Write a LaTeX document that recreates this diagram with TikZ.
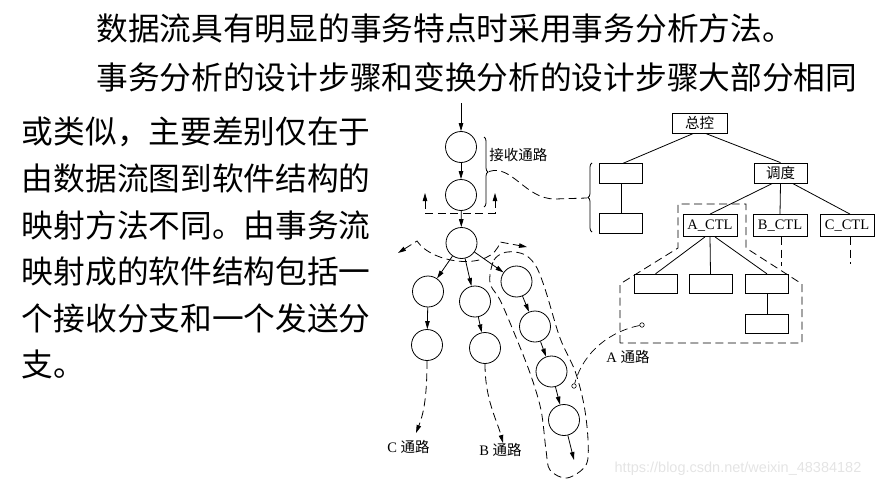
\documentclass[tikz,border=0pt]{standalone}
\usepackage{fontspec}
\setmainfont{Liberation Serif}
\newfontfamily\cjk{Noto Sans CJK SC}
\newfontfamily\wmfont{Liberation Sans}
\usetikzlibrary{arrows.meta,decorations.pathreplacing}
\definecolor{wmark}{HTML}{E4E4E4}

\begin{document}
\begin{tikzpicture}[x=1pt,y=-1pt,line width=0.8pt,
   body/.style={anchor=base west,inner sep=0pt,font=\cjk\fontsize{31.7}{40}\selectfont},
   tag/.style={anchor=west,inner sep=0pt,font=\fontsize{14.5}{16}\selectfont},
   arr/.style={-{Triangle[length=8pt,width=4.5pt]}},
   dline/.style={dash pattern=on 8pt off 4.5pt},
   bubble/.style={circle,draw,minimum size=31pt,inner sep=0pt},
   port/.style={circle,draw,fill=white,minimum size=4.5pt,inner sep=0pt,line width=0.6pt},
   modbox/.style={draw,minimum width=54pt,minimum height=22pt,inner sep=0pt,font=\fontsize{14.5}{16}\selectfont},
   blank/.style={draw,minimum width=43pt,minimum height=19.5pt,inner sep=0pt},
   wave/.style={decorate,decoration={brace,amplitude=4pt}}]
\useasboundingbox (0,0) rectangle (883,487);
% text
\node[body] (top1) at (96,41) {数据流具有明显的事务特点时采用事务分析方法。};
\node[body] (top2) at (96,89.5) {事务分析的设计步骤和变换分析的设计步骤大部分相同};
\foreach \txt [count=\i] in {或类似，主要差别仅在于,由数据流图到软件结构的,
   映射方法不同。由事务流,映射成的软件结构包括一,个接收分支和一个发送分,支。}
   \node[body] (left\i) at (21.5,{143.7+46.65*(\i-1)}) {\txt};
% data flow graph
\coordinate (in) at (461,103);
\node[bubble] (c1) at (461,147) {};
\node[bubble] (c2) at (461,195) {};
\node[bubble] (c3) at (461.5,243) {};
\node[bubble] (C1) at (428,291.5) {};
\node[bubble] (C2) at (427,345) {};
\node[bubble] (B1) at (475,301.5) {};
\node[bubble] (B2) at (485,348) {};
\node[bubble] (A1) at (516.5,281.5) {};
\node[bubble] (A2) at (535,326.5) {};
\node[bubble] (A3) at (551.5,371.5) {};
\node[bubble] (A4) at (564,420) {};
\draw[arr] (in) -- (c1);
\draw[arr] (c1) -- (c2);
\draw[arr] (c2) -- (c3);
\draw[arr] (c3) -- (C1);
\draw[arr] (c3) -- (B1);
\draw[arr] (c3) -- (A1);
\draw[arr] (C1) -- (C2);
\draw[arr] (B1) -- (B2);
\draw[arr] (A1) -- (A2);
\draw[arr] (A2) -- (A3);
\draw[arr] (A3) -- (A4);
\coordinate (aout) at (574,460);
\draw[arr] (A4) -- (aout);
\coordinate (cout) at (416,433);
\coordinate (bout) at (503,443);
\draw[arr,dline] (C2) .. controls (427,400) and (423,415) .. (cout);
\draw[arr,dline] (B2) .. controls (485,400) and (497,420) .. (bout);
\node[tag] (clab) at (387,447) {C \cjk 通路};
\node[tag] (blab) at (479,450) {B \cjk 通路};
% receive part
\draw[wave] (484,137) -- (484,207);
\coordinate (rtip) at (489,171.5);
\node[tag,font=\cjk\fontsize{14.5}{16}\selectfont] (rlab) at (489,155) {接收通路};
\coordinate (ul) at (425,193);
\coordinate (ur) at (495,193);
\draw[dline,{Triangle[length=8pt,width=4.5pt]}-{Triangle[length=8pt,width=4.5pt]}]
   (ul) -- (425,213) -- (495,213) -- (ur);
% transaction centre
\coordinate (tl) at (398,253);
\coordinate (tr) at (527,247);
\draw[dline,{Triangle[length=8pt,width=4.5pt]}-{Triangle[length=8pt,width=4.5pt]}]
   (tl) -- (417,241) .. controls (432,264) and (492,272) .. (500,242) -- (tr);
% A path loop
\draw[dline] plot[smooth cycle,tension=0.55] coordinates {(490,275) (494,260) (503,253)
   (515,252) (527,256) (537,268) (546,292) (560,338) (575,371) (584,405) (588,440)
   (586,465) (567,478) (550,470) (546,450) (541,410) (530,373) (513,330) (500,300) (491,286)};
% structure chart
\node[modbox,minimum width=55pt,minimum height=20pt,font=\cjk\fontsize{14.5}{16}\selectfont] (zk) at (699.5,123) {总控};
\node[modbox,minimum width=53pt,minimum height=20pt,font=\cjk\fontsize{14.5}{16}\selectfont] (dd) at (780.5,173) {调度};
\node[blank] (r1) at (621,173.5) {};
\node[blank] (r2) at (621,223.5) {};
\node[modbox] (actl) at (710,225.5) {A\_CTL};
\node[modbox] (bctl) at (780,225.5) {B\_CTL};
\node[modbox] (cctl) at (847,225.5) {C\_CTL};
\node[blank] (a1) at (655.5,284) {};
\node[blank] (a2) at (710.5,284) {};
\node[blank] (a3) at (767,284) {};
\node[blank] (a4) at (767,324) {};
\draw ([xshift=-6pt]zk.south) -- ([xshift=2pt]r1.north);
\draw ([xshift=6pt]zk.south) -- (dd.north);
\draw (r1) -- (r2);
\draw ([xshift=-8pt]dd.south) -- (actl.north);
\draw (dd.south) -- (bctl.north);
\draw ([xshift=12pt]dd.south) -- ([xshift=3pt]cctl.north);
\draw ([xshift=-5pt]actl.south) -- (a1.north);
\draw (actl.south) -- (a2.north);
\draw ([xshift=5pt]actl.south) -- (a3.north);
\draw (a3) -- (a4);
\coordinate (bdown) at (781,266);
\coordinate (cdown) at (850,264);
\draw[dline] (781,237) -- (bdown);
\draw[dline] (850,237) -- (cdown);
\draw[dline] (620,343) -- (620,284) -- (678,248) -- (678,204) -- (746,204)
   -- (746,248) -- (802,284) -- (802,343) -- cycle;
\draw[wave] (592,232) -- (592,163);
\coordinate (ltip) at (587,198);
\draw[dline] (rtip) .. controls (512,164) and (525,199) .. (555,199) -- (ltip);
% A path link
\node[port] (pa) at (642,325) {};
\node[port] (pb) at (574,386) {};
\draw[dline,line width=0.7pt] (pa) .. controls (612,331) and (584,350) .. (pb);
\node[tag] (alab) at (606,357) {A \cjk 通路};
% watermark
\node[font=\wmfont\fontsize{14.5}{16}\selectfont,text=wmark,inner sep=0pt] (wm) at (738,469)
   {https://blog.csdn.net/weixin\_48384182};
\end{tikzpicture}
\end{document}
